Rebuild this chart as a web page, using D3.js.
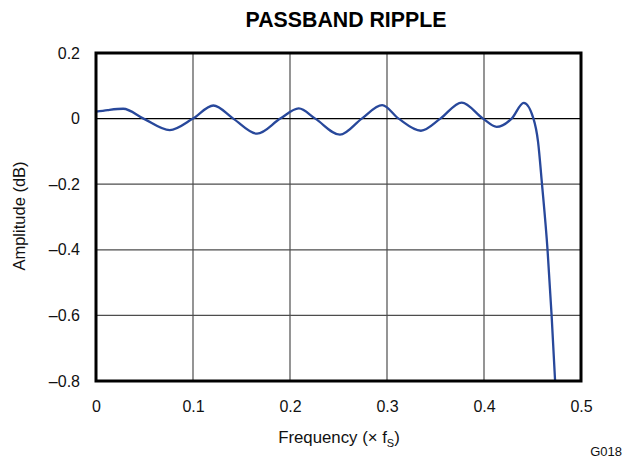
<!DOCTYPE html>
<html>
<head>
<meta charset="utf-8">
<script src="https://cdn.jsdelivr.net/npm/d3@7"></script>
<style>
  html, body { margin: 0; padding: 0; background: #fff; }
  svg { display: block; font-family: "Liberation Sans", Arial, Helvetica, sans-serif; }
</style>
</head>
<body>
<svg id="chart" width="626" height="462"></svg>
<script>
// Data
const freq = [0, 0.012, 0.028, 0.049, 0.076, 0.100, 0.121, 0.1415, 0.166, 0.190, 0.209, 0.226,
              0.2515, 0.274, 0.295, 0.312, 0.335, 0.355, 0.377, 0.399, 0.413, 0.4285, 0.441,
              0.451, 0.4557, 0.4598, 0.4655, 0.4697, 0.4733];
const amplitude = [0.021, 0.026, 0.030, 0.000, -0.035, 0.000, 0.040, 0.000, -0.046, 0.000, 0.031, 0.000,
                   -0.049, 0.000, 0.041, 0.000, -0.037, 0.000, 0.049, 0.000, -0.025, 0.000, 0.048,
                   0.000, -0.070, -0.200, -0.400, -0.600, -0.800];
const xTicks = [0, 0.1, 0.2, 0.3, 0.4, 0.5];
const yTicks = [0.2, 0, -0.2, -0.4, -0.6, -0.8];

const svg = d3.select("#chart");
const pLeft = 96, pRight = 581, pTop = 53, pBottom = 381;

const x = d3.scaleLinear().domain([0, 0.5]).range([pLeft, pRight]);
const y = d3.scaleLinear().domain([-0.8, 0.2]).range([pBottom, pTop]);

const fmt = v => (v < 0 ? "\u2013" : "") + (v === 0 ? "0" : Math.abs(v).toString());

// Gridlines
svg.append("g").selectAll("line").data(xTicks.slice(1, -1)).join("line")
  .attr("x1", d => x(d)).attr("x2", d => x(d))
  .attr("y1", pTop).attr("y2", pBottom)
  .attr("stroke", "#4d4d4d").attr("stroke-width", 1.2);
svg.append("g").selectAll("line").data(yTicks.slice(1, -1)).join("line")
  .attr("x1", pLeft).attr("x2", pRight)
  .attr("y1", d => y(d)).attr("y2", d => y(d))
  .attr("stroke", d => d === 0 ? "#000" : "#4d4d4d").attr("stroke-width", 1.2);

// Curve
const pts = freq.map((f, i) => [f, amplitude[i]]);
svg.append("path").datum(pts)
  .attr("d", d3.line().x(d => x(d[0])).y(d => y(d[1])).curve(d3.curveMonotoneX))
  .attr("fill", "none").attr("stroke", "#28489b").attr("stroke-width", 2.3)
  .attr("stroke-linejoin", "round");

// Frame
svg.append("rect").attr("x", pLeft).attr("y", pTop)
  .attr("width", pRight - pLeft).attr("height", pBottom - pTop)
  .attr("fill", "none").attr("stroke", "#000").attr("stroke-width", 3);

// Axes labels (using d3 axes for tick text)
const xAxis = d3.axisBottom(x).tickValues(xTicks).tickFormat(fmt).tickSize(0).tickPadding(20);
const gx = svg.append("g").attr("transform", `translate(0,${pBottom})`).call(xAxis);
gx.select(".domain").remove();
gx.selectAll("text").attr("font-size", 16).attr("fill", "#111")
  .attr("font-family", "Liberation Sans, Arial, sans-serif");

const yAxis = d3.axisLeft(y).tickValues(yTicks).tickFormat(fmt).tickSize(0).tickPadding(16);
const gy = svg.append("g").attr("transform", `translate(${pLeft},0)`).call(yAxis);
gy.select(".domain").remove();
gy.selectAll("text").attr("font-size", 16).attr("fill", "#111")
  .attr("font-family", "Liberation Sans, Arial, sans-serif");

// Title
svg.append("text").attr("x", 346).attr("y", 27).attr("text-anchor", "middle")
  .attr("font-size", 21.3).attr("font-weight", "bold").attr("fill", "#000")
  .text("PASSBAND RIPPLE");

// X label
const xl = svg.append("text").attr("x", 339).attr("y", 443).attr("text-anchor", "middle")
  .attr("font-size", 16.8).attr("fill", "#111");
xl.append("tspan").text("Frequency (\u00D7 f");
xl.append("tspan").attr("font-size", 11).attr("dy", 4).text("S");
xl.append("tspan").attr("dy", -4).text(")");

// Y label
svg.append("text").attr("transform", "translate(25,216) rotate(-90)")
  .attr("text-anchor", "middle").attr("font-size", 16.5).attr("fill", "#111")
  .text("Amplitude (dB)");

// Figure ID
svg.append("text").attr("x", 622).attr("y", 456).attr("text-anchor", "end")
  .attr("font-size", 13).attr("fill", "#111").text("G018");
</script>
</body>
</html>
